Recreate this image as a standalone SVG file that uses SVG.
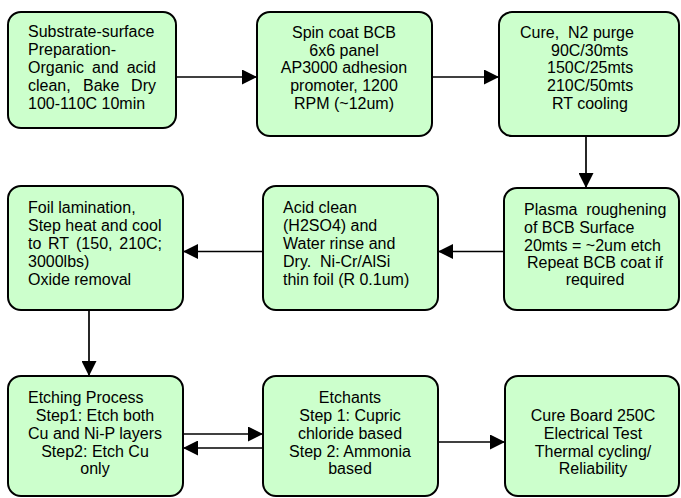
<svg xmlns="http://www.w3.org/2000/svg" width="681" height="498" viewBox="0 0 681 498">
<defs>
<marker id="ah" markerUnits="userSpaceOnUse" markerWidth="15" markerHeight="15" refX="15" refY="7.5" orient="auto">
<path d="M0,0 L15,7.5 L0,15 z" fill="#000"/>
</marker>
<style>
.box{fill:#CCFFCC;stroke:#000;stroke-width:2}
text{font-family:"Liberation Sans",Arial,sans-serif;font-size:16px;fill:#000;white-space:pre}
.c{text-anchor:middle}
.e{text-anchor:end}
.ln{stroke:#000;stroke-width:1.7;fill:none;marker-end:url(#ah)}
</style>
</defs>
<rect width="681" height="498" fill="#fff"/>
<g id="connectors">
<line class="ln" x1="176" y1="77" x2="257" y2="77"/>
<line class="ln" x1="432" y1="77" x2="499" y2="77"/>
<line class="ln" x1="586" y1="136" x2="586" y2="188"/>
<line class="ln" x1="504" y1="251.5" x2="438" y2="251.5"/>
<line class="ln" x1="263" y1="251.5" x2="183" y2="251.5"/>
<line class="ln" x1="89" y1="310" x2="89" y2="376"/>
<line class="ln" x1="183" y1="434" x2="263" y2="434"/>
<line class="ln" x1="263" y1="448" x2="183" y2="448"/>
<line class="ln" x1="438" y1="442" x2="505" y2="442"/>
</g>
<g id="n1">
<rect class="box" x="8" y="12" width="168" height="116" rx="13"/>
<text x="28" y="37">Substrate-surface</text>
<text x="28" y="55">Preparation-</text>
<text y="73"><tspan x="28">Organic</tspan><tspan x="92">and</tspan><tspan x="156" class="e">acid</tspan></text>
<text y="91"><tspan x="28">clean,</tspan><tspan x="83">Bake</tspan><tspan x="156" class="e">Dry</tspan></text>
<text x="28" y="109">100-110C 10min</text>
</g>
<g id="n2">
<rect class="box" x="257" y="12" width="175" height="124" rx="13"/>
<text class="c" x="344" y="38">Spin coat BCB</text>
<text class="c" x="344" y="56">6x6 panel</text>
<text class="c" x="344" y="73">AP3000 adhesion</text>
<text class="c" x="344" y="91">promoter, 1200</text>
<text class="c" x="344" y="109">RPM (~12um)</text>
</g>
<g id="n3">
<rect class="box" x="499" y="12" width="180" height="124" rx="13"/>
<text x="520" y="38">Cure,  N2 purge</text>
<text x="551" y="56">90C/30mts</text>
<text x="547" y="73">150C/25mts</text>
<text x="547" y="91">210C/50mts</text>
<text x="552" y="109">RT cooling</text>
</g>
<g id="n4">
<rect class="box" x="504" y="188" width="175" height="122" rx="13"/>
<text x="524" y="215">Plasma  roughening</text>
<text x="524" y="233">of BCB Surface</text>
<text x="524" y="251">20mts = ~2um etch</text>
<text class="c" x="595" y="268">Repeat BCB coat if</text>
<text class="c" x="595" y="285">required</text>
</g>
<g id="n5">
<rect class="box" x="263" y="186" width="175" height="124" rx="13"/>
<text x="283" y="213">Acid clean</text>
<text x="283" y="231">(H2SO4) and</text>
<text x="283" y="249">Water rinse and</text>
<text x="283" y="267">Dry.  Ni-Cr/AlSi</text>
<text x="283" y="285">thin foil (R 0.1um)</text>
</g>
<g id="n6">
<rect class="box" x="8" y="186" width="175" height="124" rx="13"/>
<text x="28" y="213">Foil lamination,</text>
<text x="28" y="231">Step heat and cool</text>
<text y="249"><tspan x="28">to</tspan><tspan x="48">RT</tspan><tspan x="76">(150,</tspan><tspan x="162" class="e">210C;</tspan></text>
<text x="28" y="267">3000lbs)</text>
<text x="28" y="285">Oxide removal</text>
</g>
<g id="n7">
<rect class="box" x="8" y="376" width="175" height="120" rx="13"/>
<text x="28" y="403">Etching Process</text>
<text class="c" x="95" y="421">Step1: Etch both</text>
<text class="c" x="95" y="439">Cu and Ni-P layers</text>
<text class="c" x="95" y="457">Step2: Etch Cu</text>
<text class="c" x="95" y="474">only</text>
</g>
<g id="n8">
<rect class="box" x="263" y="376" width="175" height="120" rx="13"/>
<text class="c" x="350" y="403">Etchants</text>
<text class="c" x="350" y="421">Step 1: Cupric</text>
<text class="c" x="350" y="439">chloride based</text>
<text class="c" x="350" y="457">Step 2: Ammonia</text>
<text class="c" x="350" y="474">based</text>
</g>
<g id="n9">
<rect class="box" x="505" y="376" width="174" height="120" rx="13"/>
<text class="c" x="593" y="421">Cure Board 250C</text>
<text class="c" x="593" y="439">Electrical Test</text>
<text class="c" x="593" y="457">Thermal cycling/</text>
<text class="c" x="593" y="474">Reliability</text>
</g>
</svg>
